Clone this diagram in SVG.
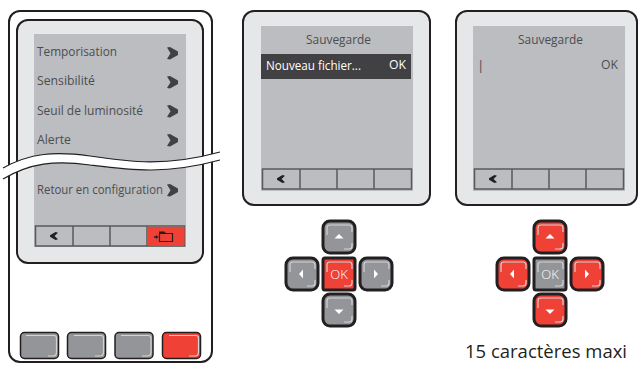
<svg xmlns="http://www.w3.org/2000/svg" width="638" height="365" viewBox="0 0 638 365" xmlns:xlink="http://www.w3.org/1999/xlink">
<style>
text{font-family:"Open Sans","Noto Sans",sans-serif;font-size:13.500px;fill:#4d4d4f}
.bez{fill:#e6e7e8;stroke:#231f20;stroke-width:2}
.scr{fill:#bbbdc0}
.sk{fill:#bbbdc0;stroke:#58595b;stroke-width:1.5}
.chev{fill:#414042}
.back{fill:#231f20}
.btn{stroke:#231f20;stroke-width:1.5}
.g{fill:#939598}.r{fill:#ef4136}
.hl{fill:none;stroke:#d1d3d4;stroke-width:1.200}
.pad{stroke:#231f20;stroke-width:3}
.tri{fill:#fff}
.ok{fill:#fff;font-size:13px;font-weight:300}
</style>
<defs>
<path id="chev" class="chev" d="M0 0.500L3 0L11 4.500V8L3 12.500L0 12L3.500 6.250Z"/>
<path id="back" class="back" d="M5.500 0L8 0.700L4.500 4L8 7.300L5.500 8L0 4.800V3.200Z"/>
<g id="softbar">
<rect class="sk" x="-0.500" y="0" width="149" height="20"/>
<path class="sk" d="M37 0V20M74 0V20M111 0V20"/>
<use xlink:href="#back" x="14" y="6"/>
</g>
<g id="padhl"><path class="hl" d="M4 14V7Q4 4 7 4H26Q29 4 29 7V11M29 22V25Q29 28 26 28H21"/></g>
</defs>

<g id="device-1">
<rect x="9" y="11" width="203" height="351" rx="11" fill="#fff" stroke="#231f20" stroke-width="2"/>
<rect class="bez" x="17" y="20" width="186" height="243" rx="11"/>
<rect class="scr" x="34" y="34" width="152" height="213"/>
<text x="37" y="56" textLength="80" lengthAdjust="spacingAndGlyphs">Temporisation</text>
<text x="37" y="85" textLength="58" lengthAdjust="spacingAndGlyphs">Sensibilité</text>
<text x="37" y="115" textLength="106" lengthAdjust="spacingAndGlyphs">Seuil de luminosité</text>
<text x="37" y="144" textLength="34" lengthAdjust="spacingAndGlyphs">Alerte</text>
<text x="37" y="194" textLength="126" lengthAdjust="spacingAndGlyphs">Retour en configuration</text>
<use xlink:href="#chev" x="167" y="47"/>
<use xlink:href="#chev" x="167" y="76"/>
<use xlink:href="#chev" x="167" y="105"/>
<use xlink:href="#chev" x="167" y="134"/>
<use xlink:href="#chev" x="167" y="184"/>
<use xlink:href="#softbar" x="36" y="226"/>
<rect x="147" y="226.800" width="37.500" height="18.500" fill="#ef4136"/>
<path d="M159.500 233.500H172.500V241.500H159.500Z" fill="none" stroke="#231f20" stroke-width="1.200"/>
<path d="M159 231.500H164.500L166 233.500H159Z" fill="#231f20"/>
<path d="M154 236.300H156V235L158.500 237L156 239V237.700H154Z" fill="#231f20"/>
<path d="M3 168C30 153 55 151 90 156C130 162 165 167 220 152V160C165 175 130 170 90 165C55 160 30 163 3 179Z" fill="#fff"/>
<path d="M3 168C30 153 55 151 90 156C130 162 165 167 220 152M3 179C30 163 55 160 90 165C130 170 165 175 220 160" fill="none" stroke="#231f20" stroke-width="1.200"/>
<g id="key-1"><rect class="btn g" x="20.500" y="332.500" width="38" height="26" rx="4"/><path class="hl" d="M26 335.500H54Q56.500 335.500 56.500 338V352Q56.500 356 53 356H48"/></g>
<g id="key-2"><rect class="btn g" x="67.500" y="332.500" width="38" height="26" rx="4"/><path class="hl" d="M74 335.500H101Q103.500 335.500 103.500 338V352Q103.500 356 100 356H95"/></g>
<g id="key-3"><rect class="btn g" x="115" y="332.500" width="38" height="26" rx="4"/><path class="hl" d="M121 335.500H148.500Q151 335.500 151 338V352Q151 356 147.500 356H142"/></g>
<g id="key-4"><rect class="btn r" x="162.500" y="332.500" width="38" height="26" rx="4"/><path class="hl" d="M169 335.500H196Q198.500 335.500 198.500 338V352Q198.500 356 195 356H189"/></g>
</g>

<g id="device-2">
<rect class="bez" x="243" y="11" width="187" height="194" rx="11"/>
<rect class="scr" x="261" y="26" width="152" height="165"/>
<text x="306" y="44" textLength="65" lengthAdjust="spacingAndGlyphs">Sauvegarde</text>
<rect x="261" y="54" width="150" height="25" fill="#414042"/>
<text x="266" y="70" textLength="95" lengthAdjust="spacingAndGlyphs" style="fill:#fff">Nouveau fichier...</text>
<text x="389" y="69" textLength="17" lengthAdjust="spacingAndGlyphs" style="fill:#fff">OK</text>
<use xlink:href="#softbar" x="263" y="169"/>
</g>

<g id="device-3">
<rect class="bez" x="456" y="11" width="181" height="194" rx="11"/>
<rect class="scr" x="473" y="26" width="152" height="165"/>
<text x="518" y="44" textLength="65" lengthAdjust="spacingAndGlyphs">Sauvegarde</text>
<text x="477" y="70">|</text>
<text x="601" y="69" textLength="17" lengthAdjust="spacingAndGlyphs">OK</text>
<use xlink:href="#softbar" x="475" y="169"/>
</g>

<g id="dpad-1">
<g id="p1-up"><rect class="pad g" x="323" y="221" width="32" height="32" rx="7"/><use xlink:href="#padhl" x="323" y="221"/><path class="tri" d="M339 234L343.500 238.500H334.500Z"/></g>
<g id="p1-left"><rect class="pad g" x="286" y="258" width="32" height="32" rx="7"/><use xlink:href="#padhl" x="286" y="258"/><path class="tri" d="M299 274L303 269.500V278.500Z"/></g>
<g id="p1-ok"><rect class="pad r" x="323" y="258" width="32" height="32" rx="2"/><use xlink:href="#padhl" x="323" y="258"/><text class="ok" x="339" y="279" text-anchor="middle">OK</text></g>
<g id="p1-right"><rect class="pad g" x="360" y="258" width="32" height="32" rx="7"/><use xlink:href="#padhl" x="360" y="258"/><path class="tri" d="M378 274L374 269.500V278.500Z"/></g>
<g id="p1-down"><rect class="pad g" x="323" y="294" width="32" height="32" rx="7"/><use xlink:href="#padhl" x="323" y="294"/><path class="tri" d="M339 314L343.500 309.500H334.500Z"/></g>
</g>

<g id="dpad-2">
<g id="p2-up"><rect class="pad r" x="534" y="221" width="32" height="32" rx="7"/><use xlink:href="#padhl" x="534" y="221"/><path class="tri" d="M550 234L554.500 238.500H545.500Z"/></g>
<g id="p2-left"><rect class="pad r" x="497" y="258" width="32" height="32" rx="7"/><use xlink:href="#padhl" x="497" y="258"/><path class="tri" d="M510 274L514 269.500V278.500Z"/></g>
<g id="p2-ok"><rect class="pad g" x="534" y="258" width="32" height="32" rx="2"/><use xlink:href="#padhl" x="534" y="258"/><text class="ok" x="550" y="279" text-anchor="middle">OK</text></g>
<g id="p2-right"><rect class="pad r" x="571" y="258" width="32" height="32" rx="7"/><use xlink:href="#padhl" x="571" y="258"/><path class="tri" d="M589 274L585 269.500V278.500Z"/></g>
<g id="p2-down"><rect class="pad r" x="534" y="294" width="32" height="32" rx="7"/><use xlink:href="#padhl" x="534" y="294"/><path class="tri" d="M550 314L554.500 309.500H545.500Z"/></g>
</g>

<text x="465" y="358" textLength="162" lengthAdjust="spacingAndGlyphs" style="font-size:18.500px;fill:#231f20">15 caractères maxi</text>
<g id="connectors"/>
</svg>
